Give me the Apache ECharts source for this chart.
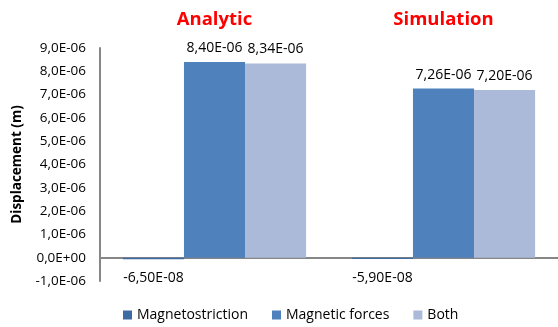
<!DOCTYPE html>
<html>
<head>
<meta charset="utf-8">
<script src="https://cdn.jsdelivr.net/npm/echarts@6/dist/echarts.min.js"></script>
<style>
  html, body { margin: 0; padding: 0; background: #fff; }
  #chart { width: 558px; height: 327px; }
</style>
</head>
<body>
<div id="chart"></div>
<script>
// Displacement per method, for each source of strain
const categories = ['Analytic', 'Simulation'];
const magnetostriction = [-6.5e-8, -5.9e-8];
const magneticForces = [8.40e-6, 7.26e-6];
const both = [8.34e-6, 7.20e-6];
const seriesNames = ['Magnetostriction', 'Magnetic forces', 'Both'];

const FONT = '"Open Sans", "Noto Sans", sans-serif';

// Scientific notation with a comma decimal separator, e.g. 8,40E-06
function sci(v, digits) {
  let s = v.toExponential(digits);
  let [m, e] = s.split('e');
  let sign = e[0] === '-' ? '-' : '+';
  let n = Math.abs(parseInt(e, 10));
  return m.replace('.', ',') + 'E' + sign + (n < 10 ? '0' + n : '' + n);
}

const chart = echarts.init(document.getElementById('chart'), null, { renderer: 'canvas' });

function barSeries(name, data, color) {
  return {
    name: name,
    type: 'bar',
    xAxisIndex: 0,
    data: data.map(v => ({
      value: v,
      label: v < 0 ? { position: 'bottom', distance: 12 } : { position: 'top', distance: 7 }
    })),
    itemStyle: { color: color },
    barGap: '0%',
    barCategoryGap: '20%',
    label: {
      show: true,
      fontFamily: FONT,
      fontSize: 14,
      color: '#000',
      formatter: p => sci(p.value, 2)
    }
  };
}

chart.setOption({
  animation: false,
  textStyle: { fontFamily: FONT },
  grid: { left: 100, top: 48, bottom: 46, width: 462, containLabel: false },
  legend: {
    left: 118,
    bottom: 0,
    itemWidth: 9,
    itemHeight: 9,
    itemGap: 24,
    icon: 'rect',
    textStyle: { fontFamily: FONT, fontSize: 14, color: '#000' },
    data: seriesNames
  },
  xAxis: [
    {
      type: 'category',
      data: categories,
      position: 'bottom',
      axisLine: { onZero: true, lineStyle: { color: '#868686', width: 2 } },
      axisTick: { show: false },
      axisLabel: { show: false }
    },
    {
      type: 'category',
      data: categories,
      position: 'top',
      axisLine: { show: false },
      axisTick: { show: false },
      axisLabel: {
        show: true,
        margin: 19,
        color: '#ff0000',
        fontWeight: 'bold',
        fontSize: 18.5,
        fontFamily: FONT
      }
    }
  ],
  yAxis: {
    type: 'value',
    min: -1e-6,
    max: 9e-6,
    interval: 1e-6,
    name: 'Displacement (m)',
    nameLocation: 'middle',
    nameGap: 76,
    nameTextStyle: { fontWeight: 'bold', fontSize: 13.5, color: '#000', fontFamily: FONT },
    axisLine: { show: true, lineStyle: { color: '#868686', width: 2 } },
    axisTick: { show: false },
    splitLine: { show: false },
    axisLabel: {
      margin: 14,
      fontSize: 13.5,
      color: '#000',
      fontFamily: FONT,
      formatter: v => sci(v, 1)
    }
  },
  series: [
    barSeries(seriesNames[0], magnetostriction, '#3f6ba3'),
    barSeries(seriesNames[1], magneticForces, '#4f81bd'),
    barSeries(seriesNames[2], both, '#aabad8')
  ]
});
</script>
</body>
</html>
